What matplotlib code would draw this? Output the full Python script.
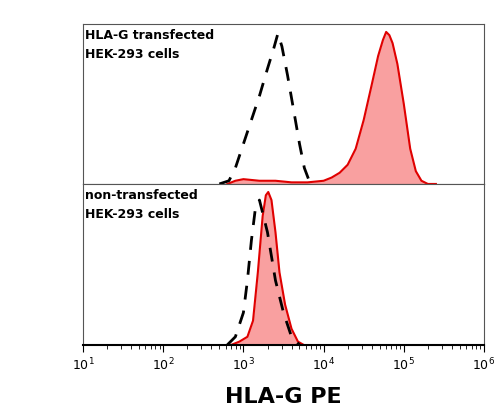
import numpy as np
import matplotlib.pyplot as plt

# top panel (transfected)
top_dash_x = [2.7, 2.82, 2.9, 3.0, 3.1, 3.2, 3.3, 3.38, 3.43, 3.48, 3.55, 3.62, 3.7, 3.76, 3.82, 3.9]
top_dash_y = [0.0, 0.02, 0.1, 0.25, 0.4, 0.55, 0.72, 0.85, 0.94, 0.86, 0.68, 0.48, 0.25, 0.1, 0.02, 0.0]
top_red_x = [2.8, 2.9, 3.0, 3.2, 3.4, 3.6, 3.8, 4.0, 4.1, 4.2, 4.3, 4.4, 4.5, 4.6, 4.68, 4.74, 4.78, 4.82, 4.86, 4.92, 5.0, 5.08, 5.15, 5.22, 5.3, 5.4]
top_red_y = [0.0, 0.02, 0.03, 0.02, 0.02, 0.01, 0.01, 0.02, 0.04, 0.07, 0.12, 0.22, 0.4, 0.62, 0.8, 0.9, 0.95, 0.93, 0.88, 0.75, 0.5, 0.22, 0.08, 0.02, 0.0, 0.0]
# bottom panel (non-transfected)
bot_dash_x = [2.8, 2.9, 3.0, 3.05, 3.1, 3.15, 3.2, 3.25, 3.3, 3.35, 3.4, 3.5, 3.6, 3.7]
bot_dash_y = [0.0, 0.05, 0.2, 0.4, 0.65, 0.85, 0.9, 0.8, 0.7, 0.55, 0.4, 0.2, 0.05, 0.0]
bot_red_x = [2.85, 2.95, 3.05, 3.12, 3.18, 3.24, 3.28, 3.31, 3.35, 3.4, 3.45, 3.52, 3.6, 3.68, 3.75]
bot_red_y = [0.0, 0.02, 0.05, 0.15, 0.45, 0.8, 0.93, 0.95, 0.9, 0.7, 0.45, 0.25, 0.1, 0.02, 0.0]

fig = plt.figure(figsize=(5.0, 4.2), dpi=100)
ax1 = fig.add_axes([0.166, 0.562, 0.802, 0.381])
ax2 = fig.add_axes([0.166, 0.179, 0.802, 0.383], sharex=ax1)

for ax, dx, dy, rx, ry, lab in [
    (ax1, top_dash_x, top_dash_y, top_red_x, top_red_y, "HLA-G transfected\nHEK-293 cells"),
    (ax2, bot_dash_x, bot_dash_y, bot_red_x, bot_red_y, "non-transfected\nHEK-293 cells")]:
    rxv = 10 ** np.array(rx)
    ax.fill_between(rxv, ry, color='#f9a0a0', lw=0)
    ax.plot(rxv, ry, color='#e00000', lw=1.5)
    ax.plot(10 ** np.array(dx), dy, color='black', lw=2, ls=(0, (5, 4)))
    ax.set_xscale('log')
    ax.set_xlim(10, 1e6)
    ax.set_ylim(0, 1.0)
    ax.set_yticks([])
    ax.text(0.005, 0.97, lab, transform=ax.transAxes, va='top', ha='left',
            fontsize=9, fontweight='bold', linespacing=1.6)
    for s in ax.spines.values():
        s.set_color('#555555')

plt.setp(ax1.get_xticklabels(), visible=False)
ax1.tick_params(axis='x', which='both', length=0)
ax2.spines['bottom'].set_color('black')
ax2.spines['bottom'].set_linewidth(1.5)
ax2.tick_params(axis='x', which='major', length=5, direction='out', labelsize=9)
ax2.tick_params(axis='x', which='minor', length=3, direction='out')
ax2.set_xticks([1e1, 1e2, 1e3, 1e4, 1e5, 1e6])
ax2.set_xlabel('HLA-G PE', fontsize=16, fontweight='bold', labelpad=10)
fig.savefig('out.png', dpi=100)
